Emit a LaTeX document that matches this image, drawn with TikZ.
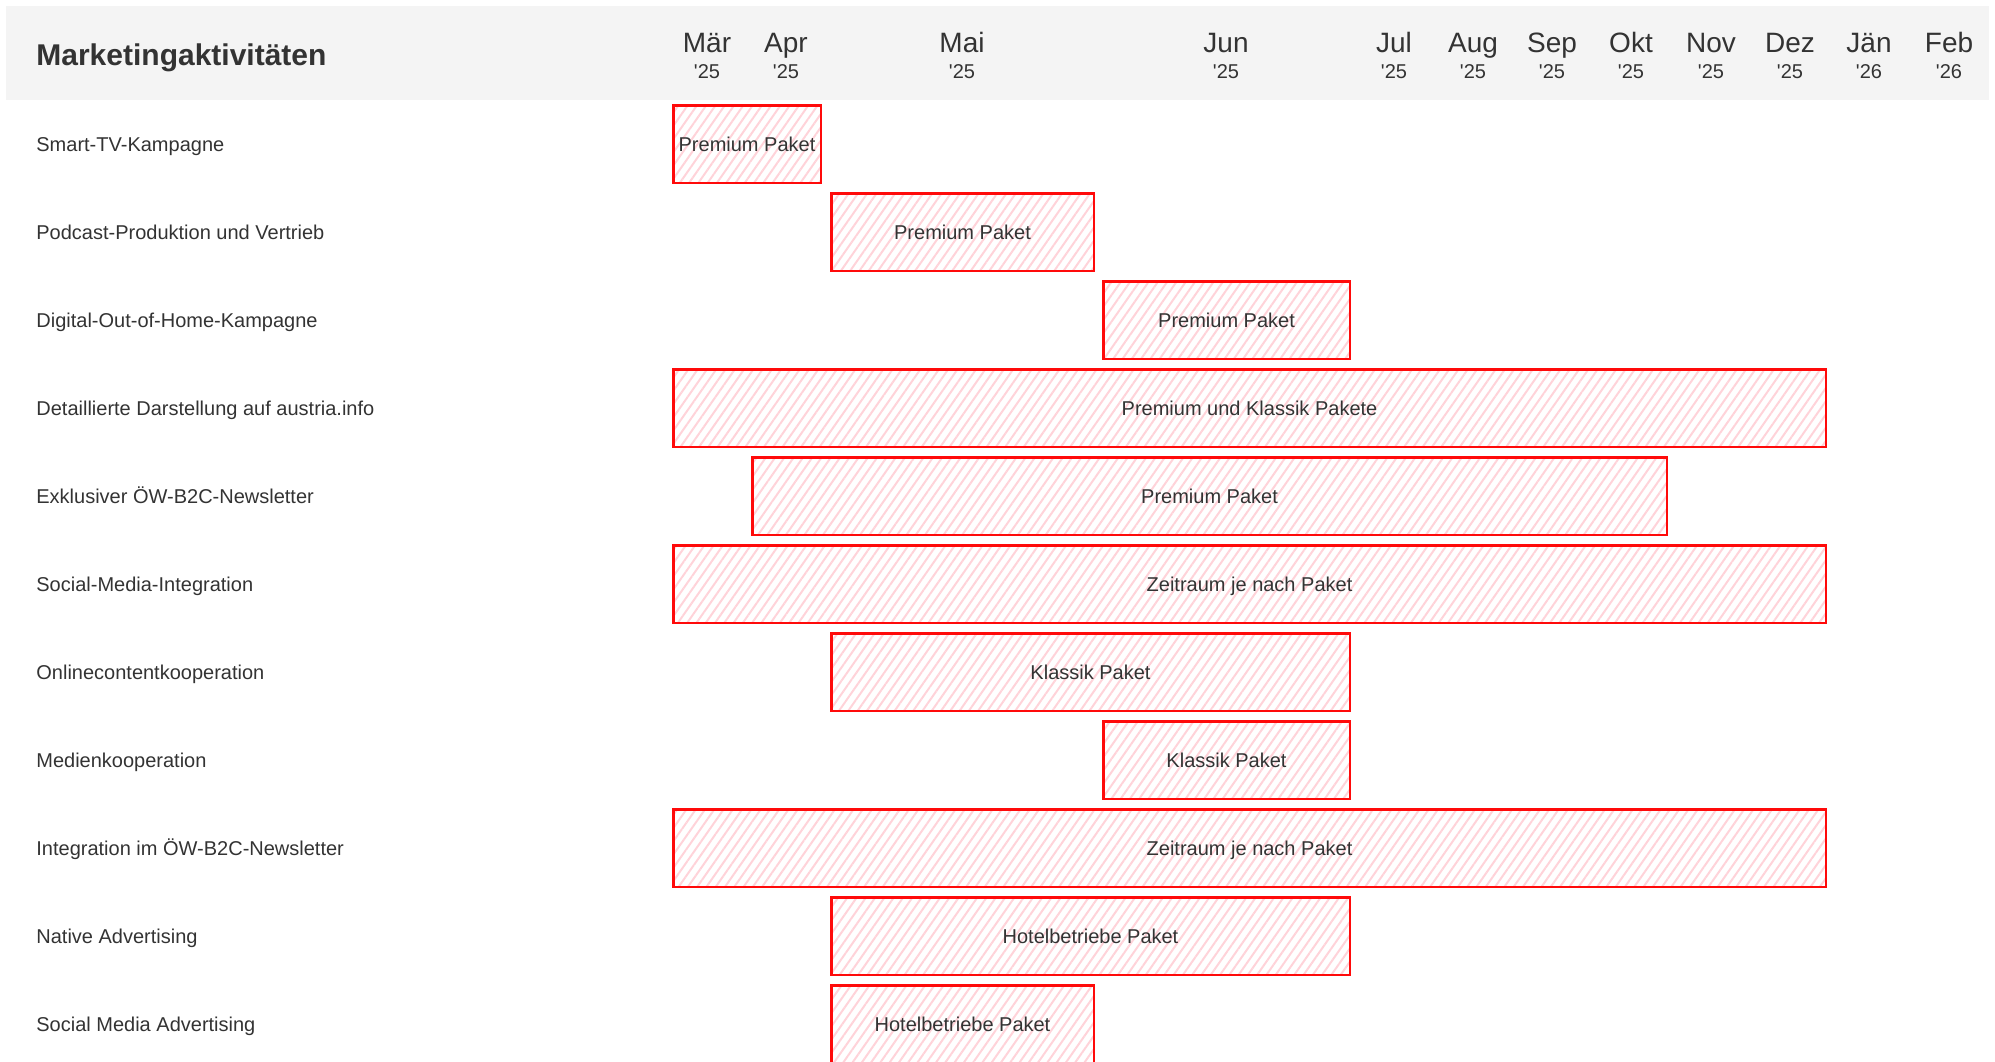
\documentclass[tikz,border=0pt]{standalone}
\usepackage{fontspec}
\setmainfont{Liberation Sans}
\usepackage{tikz}
\usetikzlibrary{patterns.meta,positioning}
\definecolor{txt}{HTML}{333333}
\definecolor{headbg}{HTML}{F4F4F4}
\definecolor{barred}{HTML}{FF0A0A}
\definecolor{hatch}{HTML}{FFD3D9}
\tikzstyle{title}=[anchor=west,inner sep=0pt,text=txt,text height=10.7pt,text depth=0pt,
  font=\fontsize{15}{18}\selectfont\bfseries]
\tikzstyle{month}=[inner sep=0pt,text=txt,text height=10pt,text depth=0pt,font=\fontsize{14}{16}\selectfont]
\tikzstyle{year}=[inner sep=0pt,text=txt,text height=7.2pt,text depth=0pt,font=\fontsize{10}{12}\selectfont]
\tikzstyle{rowlabel}=[anchor=west,inner sep=0pt,text=txt,text height=7.2pt,text depth=0pt,
  font=\fontsize{10}{12}\selectfont]
\tikzstyle{paket}=[rectangle,draw=barred,line width=1.25pt,inner sep=0pt,minimum height=38.75pt,
  text=txt,text height=7.2pt,text depth=0pt,font=\fontsize{10}{12}\selectfont,
  pattern={Lines[angle=55,distance=3.8pt,line width=1pt]},pattern color=hatch]

\begin{document}
\begin{tikzpicture}[x=0.5pt,y=-0.5pt]
    \useasboundingbox (0,0) rectangle (1995,1061);
    \fill[headbg] (6,6) rectangle (1989,100);
    \node (head) [title] at (36,55) {Marketingaktivitäten};

    % months
    \foreach \m/\yr/\x [count=\i] in {Mär/25/707,Apr/25/786,Mai/25/962,Jun/25/1226,Jul/25/1394,
        Aug/25/1473,Sep/25/1552,Okt/25/1631,Nov/25/1711,Dez/25/1790,Jän/26/1869,Feb/26/1949}{
        \node (m\i) [month] at (\x,42) {\m};
        \node (y\i) [year] at (\x,71) {\textquotesingle\yr};
    }

    % activities
    \node (a1) [rowlabel] at (36,144) {Smart-TV-Kampagne};
    \node (a2) [rowlabel] at (36,232) {Podcast-Produktion und Vertrieb};
    \node (a3) [rowlabel] at (36,320) {Digital-Out-of-Home-Kampagne};
    \node (a4) [rowlabel] at (36,408) {Detaillierte Darstellung auf austria.info};
    \node (a5) [rowlabel] at (36,496) {Exklusiver ÖW-B2C-Newsletter};
    \node (a6) [rowlabel] at (36,584) {Social-Media-Integration};
    \node (a7) [rowlabel] at (36,672) {Onlinecontentkooperation};
    \node (a8) [rowlabel] at (36,760) {Medienkooperation};
    \node (a9) [rowlabel] at (36,848) {Integration im ÖW-B2C-Newsletter};
    \node (a10) [rowlabel] at (36,936) {Native Advertising};
    \node (a11) [rowlabel] at (36,1024) {Social Media Advertising};

    % bars
    \node (b1) [paket,minimum width=73.75pt] at (747,144) {Premium Paket};
    \node (b2) [paket,minimum width=131.25pt] at (962.5,232) {Premium Paket};
    \node (b3) [paket,minimum width=123.25pt] at (1226.5,320) {Premium Paket};
    \node (b4) [paket,minimum width=576.25pt] at (1249.5,408) {Premium und Klassik Pakete};
    \node (b5) [paket,minimum width=457.25pt] at (1209.5,496) {Premium Paket};
    \node (b6) [paket,minimum width=576.25pt] at (1249.5,584) {Zeitraum je nach Paket};
    \node (b7) [paket,minimum width=259.25pt] at (1090.5,672) {Klassik Paket};
    \node (b8) [paket,minimum width=123.25pt] at (1226.5,760) {Klassik Paket};
    \node (b9) [paket,minimum width=576.25pt] at (1249.5,848) {Zeitraum je nach Paket};
    \node (b10) [paket,minimum width=259.25pt] at (1090.5,936) {Hotelbetriebe Paket};
    \node (b11) [paket,minimum width=131.25pt] at (962.5,1024) {Hotelbetriebe Paket};
\end{tikzpicture}
\end{document}
